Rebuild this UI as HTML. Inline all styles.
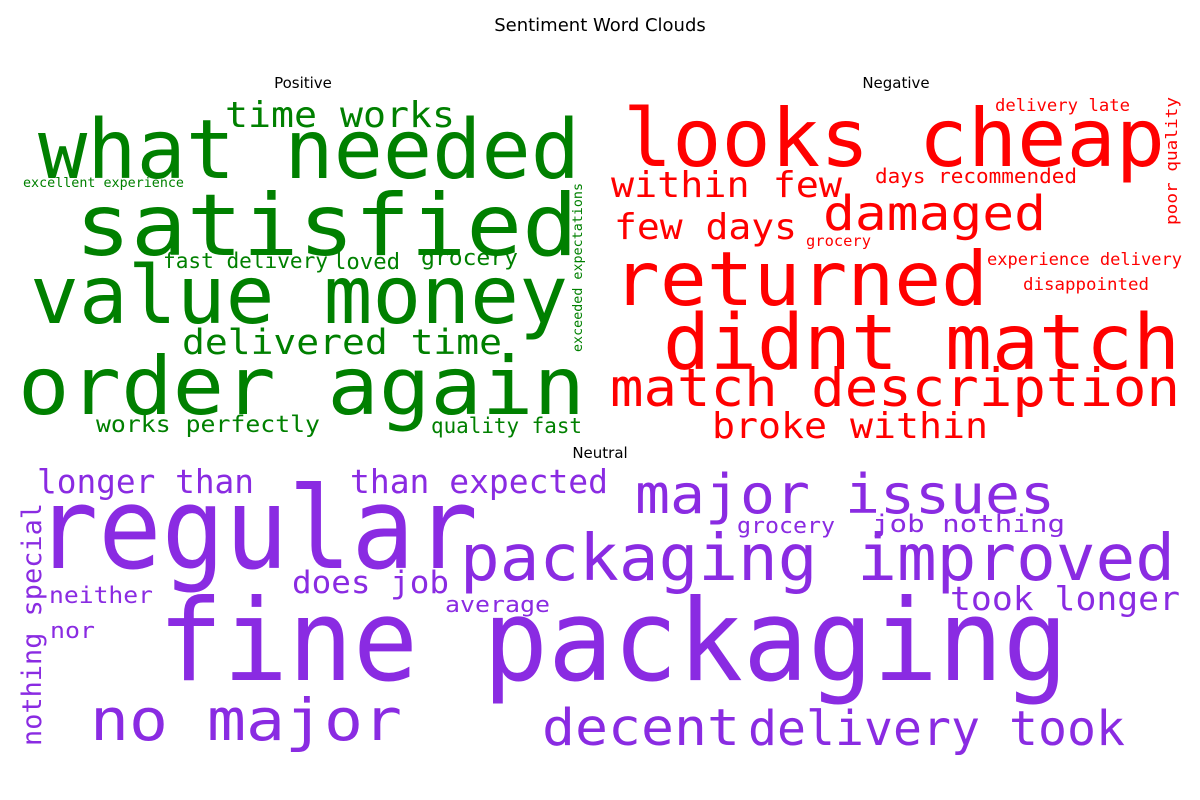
<!DOCTYPE html>
<html><head><meta charset="utf-8"><style>
html,body{margin:0;padding:0;background:#fff;}
svg{display:block;}
text{font-family:"DejaVu Sans Mono","Liberation Mono",monospace;}
.t{font-family:"DejaVu Sans","Liberation Sans",sans-serif;fill:#000;}
</style></head><body>
<svg width="1200" height="800" viewBox="0 0 1200 800">
<text class="t" x="600" y="31" font-size="18" text-anchor="middle">Sentiment Word Clouds</text>
<text class="t" x="303" y="88" font-size="15" text-anchor="middle">Positive</text>
<text class="t" x="896" y="88" font-size="15" text-anchor="middle">Negative</text>
<text class="t" x="600" y="458" font-size="15" text-anchor="middle">Neutral</text>

<g fill="#008000">
<text x="38" y="178" font-size="82" textLength="542" lengthAdjust="spacingAndGlyphs">what needed</text>
<text x="75" y="255" font-size="86" textLength="503" lengthAdjust="spacingAndGlyphs">satisfied</text>
<text x="30" y="323" font-size="80" textLength="538" lengthAdjust="spacingAndGlyphs">value money</text>
<text x="18" y="414" font-size="80" textLength="567" lengthAdjust="spacingAndGlyphs">order again</text>
<text x="225" y="127" font-size="36" textLength="230" lengthAdjust="spacingAndGlyphs">time works</text>
<text x="182" y="354" font-size="35" textLength="320" lengthAdjust="spacingAndGlyphs">delivered time</text>
<text x="163" y="268" font-size="21" textLength="165" lengthAdjust="spacingAndGlyphs">fast delivery</text>
<text x="333" y="269" font-size="22" textLength="67" lengthAdjust="spacingAndGlyphs">loved</text>
<text x="421" y="265" font-size="22" textLength="97" lengthAdjust="spacingAndGlyphs">grocery</text>
<text x="96" y="432" font-size="23" textLength="224" lengthAdjust="spacingAndGlyphs">works perfectly</text>
<text x="431" y="433" font-size="21" textLength="151" lengthAdjust="spacingAndGlyphs">quality fast</text>
<text x="23" y="187" font-size="13" textLength="161" lengthAdjust="spacingAndGlyphs">excellent experience</text>
<text transform="translate(582,352) rotate(-90)" font-size="13" textLength="169" lengthAdjust="spacingAndGlyphs">exceeded expectations</text>
</g>

<g fill="#ff0000">
<text x="623" y="166" font-size="80" textLength="542" lengthAdjust="spacingAndGlyphs">looks cheap</text>
<text x="611" y="197" font-size="36" textLength="231" lengthAdjust="spacingAndGlyphs">within few</text>
<text x="614" y="239" font-size="36" textLength="183" lengthAdjust="spacingAndGlyphs">few days</text>
<text x="823" y="230" font-size="48" textLength="223" lengthAdjust="spacingAndGlyphs">damaged</text>
<text x="613" y="305" font-size="75" textLength="375" lengthAdjust="spacingAndGlyphs">returned</text>
<text x="663" y="369" font-size="77" textLength="517" lengthAdjust="spacingAndGlyphs">didnt match</text>
<text x="610" y="406" font-size="53" textLength="570" lengthAdjust="spacingAndGlyphs">match description</text>
<text x="712" y="438" font-size="36" textLength="276" lengthAdjust="spacingAndGlyphs">broke within</text>
<text x="995" y="111" font-size="17" textLength="135" lengthAdjust="spacingAndGlyphs">delivery late</text>
<text x="875" y="183" font-size="20" textLength="202" lengthAdjust="spacingAndGlyphs">days recommended</text>
<text x="806" y="246" font-size="15" textLength="65" lengthAdjust="spacingAndGlyphs">grocery</text>
<text x="987" y="265" font-size="17" textLength="195" lengthAdjust="spacingAndGlyphs">experience delivery</text>
<text x="1023" y="290" font-size="17" textLength="126" lengthAdjust="spacingAndGlyphs">disappointed</text>
<text transform="translate(1177,225) rotate(-90)" font-size="16" textLength="128" lengthAdjust="spacingAndGlyphs">poor quality</text>
</g>

<g fill="#8a2be2">
<text x="35" y="568" font-size="113" textLength="443" lengthAdjust="spacingAndGlyphs">regular</text>
<text x="158" y="680" font-size="113" textLength="910" lengthAdjust="spacingAndGlyphs">fine packaging</text>
<text x="460" y="580" font-size="64" textLength="715" lengthAdjust="spacingAndGlyphs">packaging improved</text>
<text x="635" y="513" font-size="54" textLength="420" lengthAdjust="spacingAndGlyphs">major issues</text>
<text x="37" y="493" font-size="33" textLength="217" lengthAdjust="spacingAndGlyphs">longer than</text>
<text x="350" y="493" font-size="33" textLength="258" lengthAdjust="spacingAndGlyphs">than expected</text>
<text x="737" y="533" font-size="22" textLength="98" lengthAdjust="spacingAndGlyphs">grocery</text>
<text x="872" y="532" font-size="24" textLength="193" lengthAdjust="spacingAndGlyphs">job nothing</text>
<text x="292" y="593" font-size="31" textLength="157" lengthAdjust="spacingAndGlyphs">does job</text>
<text x="49" y="603" font-size="23" textLength="104" lengthAdjust="spacingAndGlyphs">neither</text>
<text x="445" y="612" font-size="22" textLength="105" lengthAdjust="spacingAndGlyphs">average</text>
<text x="50" y="638" font-size="22" textLength="45" lengthAdjust="spacingAndGlyphs">nor</text>
<text x="950" y="610" font-size="33" textLength="230" lengthAdjust="spacingAndGlyphs">took longer</text>
<text transform="translate(41,746) rotate(-90)" font-size="27" textLength="243" lengthAdjust="spacingAndGlyphs">nothing special</text>
<text x="90" y="740" font-size="58" textLength="312" lengthAdjust="spacingAndGlyphs">no major</text>
<text x="542" y="745" font-size="51" textLength="198" lengthAdjust="spacingAndGlyphs">decent</text>
<text x="748" y="745" font-size="48" textLength="377" lengthAdjust="spacingAndGlyphs">delivery took</text>
</g>
</svg>
</body></html>
